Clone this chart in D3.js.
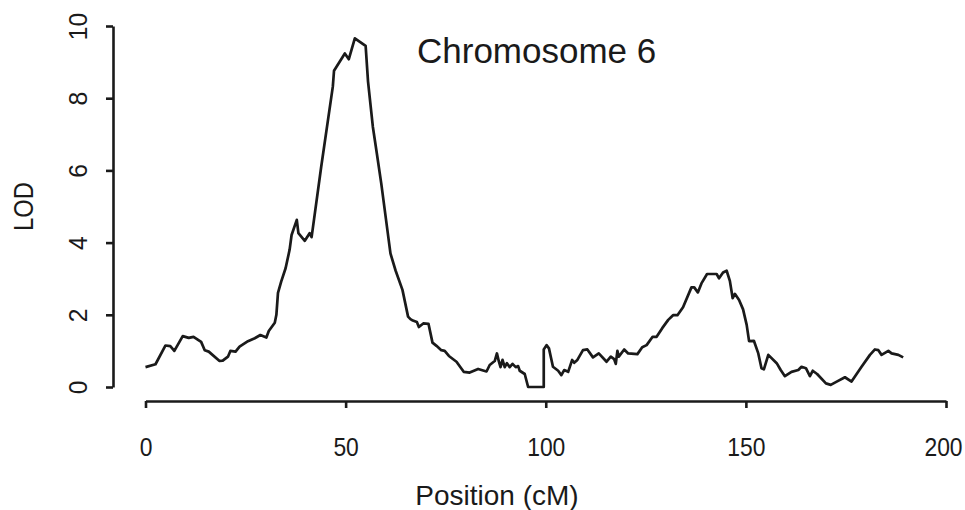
<!DOCTYPE html>
<html lang="en">
<meta charset="utf-8">
<style>
body {
  margin: 0;
  background: #fff;
}
text {
  font-family: "Liberation Sans", Arial, Helvetica, sans-serif;
  fill: #1a1a1a;
}
.axis path,
.axis line {
  fill: none;
  stroke: #1a1a1a;
  stroke-width: 2.6px;
}
.lod {
  fill: none;
  stroke: #1a1a1a;
  stroke-width: 2.7px;
  stroke-linejoin: round;
}
</style>
<body>
<script src="https://d3js.org/d3.v7.min.js"></script>
<script>
// LOD profile: position (cM) and LOD score
var position = [0, 2.5, 5, 6.2, 7.2, 9.3, 10.8, 12, 13.9, 14.8, 15.8, 18.5, 19.3, 20.6, 21.2, 22.5,
  23.5, 25.6, 27.3, 28.7, 30.2, 30.8, 32.3, 32.7, 33.1, 33.9, 35, 36, 36.5, 37.8, 38.2, 39.8,
  41.0, 41.5, 43.9, 46.8, 47.1, 49.8, 50.8, 52.3, 55, 55.6, 56.8, 57.8, 58.9, 61.2, 62.5, 64.2,
  65.6, 66.2, 66.8, 67.8, 68.3, 69.4, 70.7, 71.7, 72.7, 73.9, 74.75, 75.8, 77.7, 79.5, 81, 83.1,
  85.2, 86, 87.25, 87.8, 88.3, 88.7, 89.2, 89.75, 90.3, 91, 91.7, 92.5, 93.1, 93.5, 94.75, 95.6,
  99.5, 99.5, 100.2, 100.8, 101.8, 103.1, 103.9, 104.6, 105.6, 106.6, 107.1, 107.9, 109.3, 110.4,
  111.8, 113.25, 115.2, 116.25, 117.1, 117.5, 117.9, 118.25, 119.6, 120.6, 122.9, 124.1, 125.2,
  126.7, 127.7, 129.1, 130.6, 131.8, 132.9, 134.3, 136.4, 137.1, 138.0, 138.9, 140.3, 142.7,
  143.3, 144.3, 145.2, 146, 146.7, 147.25, 148.3, 149.3, 150.2, 150.8, 152, 153.1, 153.9, 154.5,
  155.6, 157.7, 158.7, 159.75, 161.4, 163.1, 163.9, 165, 166, 166.7, 167.8, 170, 171.2, 172.7,
  174.75, 176.4, 178.9, 181, 182.25, 183.1, 183.9, 185.6, 186.4, 188.1, 189.3];

var lod = [0.55, 0.63, 1.15, 1.13, 1.0, 1.41, 1.36, 1.39, 1.25, 1.02, 0.98, 0.72, 0.73, 0.84, 1.0, 0.98,
  1.12, 1.27, 1.35, 1.44, 1.37, 1.55, 1.78, 2.0, 2.61, 2.92, 3.29, 3.8, 4.21, 4.63, 4.26, 4.05,
  4.26, 4.15, 6.1, 8.32, 8.76, 9.24, 9.08, 9.66, 9.45, 8.46, 7.21, 6.47, 5.64, 3.70, 3.22, 2.69,
  1.95, 1.88, 1.84, 1.80, 1.66, 1.76, 1.75, 1.23, 1.14, 1.02, 1.0, 0.86, 0.70, 0.42, 0.40, 0.50,
  0.43, 0.61, 0.72, 0.93, 0.7, 0.55, 0.75, 0.55, 0.66, 0.55, 0.64, 0.55, 0.58, 0.45, 0.36, 0.0,
  0.0, 1.04, 1.16, 1.07, 0.56, 0.45, 0.33, 0.47, 0.42, 0.75, 0.67, 0.75, 1.02, 1.04,
  0.82, 0.93, 0.70, 0.84, 0.77, 0.64, 1.0, 0.84, 1.04, 0.93, 0.91, 1.10, 1.16,
  1.39, 1.39, 1.63, 1.86, 1.99, 1.99, 2.21, 2.76, 2.76, 2.62, 2.87, 3.13, 3.13,
  3.01, 3.17, 3.22, 2.94, 2.46, 2.58, 2.41, 2.15, 1.72, 1.27, 1.28, 0.93, 0.52, 0.49,
  0.89, 0.66, 0.47, 0.30, 0.42, 0.47, 0.56, 0.52, 0.30, 0.45, 0.36, 0.10, 0.06, 0.15,
  0.27, 0.15, 0.56, 0.89, 1.04, 1.02, 0.89, 1.0, 0.93, 0.89, 0.82];

var xTicks = [0, 50, 100, 150, 200];
var yTicks = [0, 2, 4, 6, 8, 10];
var title = "Chromosome 6";
var xLabel = "Position (cM)";
var yLabel = "LOD";

var w = 965;
var h = 510;

var svg = d3.select("body")
  .append("svg")
  .attr("width", w)
  .attr("height", h);

var x = d3.scaleLinear()
  .domain([0, 200])
  .range([145.5, 946]);

var y = d3.scaleLinear()
  .domain([0, 10])
  .range([387, 26]);

var xAxisY = 401;
var yAxisX = 113;

// x axis (R style: detached from the plot region)
var gx = svg.append("g")
  .attr("class", "axis")
  .attr("transform", "translate(0," + xAxisY + ")")
  .call(d3.axisBottom(x).tickValues(xTicks).tickSize(7).tickSizeOuter(0));

gx.selectAll("text")
  .attr("y", 55)
  .attr("dy", 0)
  .attr("font-size", "26px")
  .attr("transform", function(d) {
    // last label sits at the window edge; nudge it in so it is not clipped
    var dx = d === 200 ? -3 : 0;
    return "translate(" + dx + ",0) scale(0.88,1)";
  });

// y axis with rotated tick labels
var gy = svg.append("g")
  .attr("class", "axis")
  .attr("transform", "translate(" + yAxisX + ",0)")
  .call(d3.axisLeft(y).tickValues(yTicks).tickSize(7).tickSizeOuter(0));

gy.selectAll("text")
  .attr("x", 0)
  .attr("y", 0)
  .attr("dy", 0)
  .attr("text-anchor", "middle")
  .attr("font-size", "26.5px")
  .attr("transform", "translate(-26,0) rotate(-90) scale(0.93,1)");

svg.selectAll(".axis text").style("fill", "#1a1a1a");
svg.selectAll(".domain").attr("stroke", "#1a1a1a");

// LOD curve
var line = d3.line()
  .x(function(d, i) { return x(position[i]); })
  .y(function(d) { return y(d); });

svg.append("path")
  .datum(lod)
  .attr("class", "lod")
  .attr("d", line);

// titles
svg.append("text")
  .attr("x", 417)
  .attr("y", 63)
  .attr("font-size", "35px")
  .text(title);

svg.append("text")
  .attr("x", 497)
  .attr("y", 505)
  .attr("text-anchor", "middle")
  .attr("font-size", "28px")
  .text(xLabel);

svg.append("text")
  .attr("text-anchor", "middle")
  .attr("font-size", "27px")
  .attr("transform", "translate(33," + (y(0) + y(10)) / 2 + ") rotate(-90) scale(0.88,1)")
  .text(yLabel);
</script>
</body>
</html>
